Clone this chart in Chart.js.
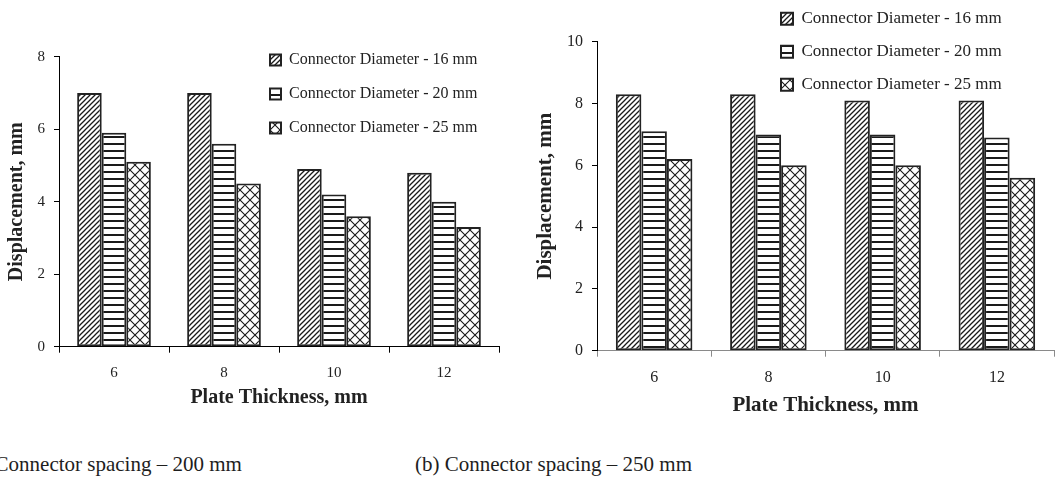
<!DOCTYPE html>
<html><head><meta charset="utf-8">
<script src="https://cdn.jsdelivr.net/npm/chart.js@4/dist/chart.umd.min.js"></script>
<style>
html,body{margin:0;padding:0;background:#fff;width:1057px;height:478px;overflow:hidden;position:relative;font-family:"Liberation Serif","Times New Roman",serif;}
canvas{position:absolute;top:0;}
#c1{left:0}
#c2{left:530px}
.cap{position:absolute;font-size:21px;color:#1e1e1e;white-space:nowrap;line-height:21px;top:454px;}
</style></head><body>
<canvas id="c1" width="525" height="416"></canvas>
<canvas id="c2" width="527" height="426"></canvas>
<div class="cap" style="left:-34px">(a) Connector spacing – 200 mm</div>
<div class="cap" style="left:415px">(b) Connector spacing – 250 mm</div>
<script>
// ---- data ----
const categories = ['6', '8', '10', '12'];
const seriesNames = ['Connector Diameter - 16 mm', 'Connector Diameter - 20 mm', 'Connector Diameter - 25 mm'];
const spacing200_d16 = [7.0, 7.0, 4.9, 4.8];
const spacing200_d20 = [5.9, 5.6, 4.2, 4.0];
const spacing200_d25 = [5.1, 4.5, 3.6, 3.3];
const spacing250_d16 = [8.3, 8.3, 8.1, 8.1];
const spacing250_d20 = [7.1, 7.0, 7.0, 6.9];
const spacing250_d25 = [6.2, 6.0, 6.0, 5.6];
const yMaxA = 8, yMaxB = 10, yStep = 2;
const xTitle = 'Plate Thickness, mm';
const yTitle = 'Displacement, mm';

// ---- patterns ----
const INK = '#222';
function tile(w, h, draw) {
  const c = document.createElement('canvas');
  c.width = w; c.height = h;
  const g = c.getContext('2d');
  g.fillStyle = '#fff'; g.fillRect(0, 0, w, h);
  g.strokeStyle = '#1a1a1a'; g.fillStyle = '#1a1a1a';
  draw(g, w, h);
  return g.createPattern(c, 'repeat');
}
const patDiag = tile(5, 5, (g, w, h) => {
  g.lineWidth = 1.3;
  g.beginPath();
  g.moveTo(-1, h + 1); g.lineTo(w + 1, -1);
  g.moveTo(-2, 2); g.lineTo(2, -2);
  g.moveTo(w - 2, h + 2); g.lineTo(w + 2, h - 2);
  g.stroke();
});
const patHoriz = tile(8, 7, (g, w, h) => {
  g.fillRect(0, 3, w, 2);
});
const patCross = tile(10, 10, (g, w, h) => {
  g.lineWidth = 1.1;
  g.beginPath();
  g.moveTo(0, 0); g.lineTo(w, h);
  g.moveTo(0, h); g.lineTo(w, 0);
  g.stroke();
});
const patterns = [patDiag, patHoriz, patCross];

const FONT = '"Liberation Serif", "Times New Roman", serif';

const legendPlacer = {
  id: 'legendPlacer',
  afterLayout(chart, args, opts) {
    const lg = chart.legend;
    if (!lg) return;
    const pad = lg.options.labels.padding;
    lg.left = opts.x - pad;
    lg.top = opts.y - pad;
  }
};

function makeChart(id, values, cfg) {
  const datasets = values.map((v, i) => ({
    label: seriesNames[i],
    data: v,
    backgroundColor: patterns[i],
    borderColor: INK,
    borderWidth: 2,
    borderSkipped: false,
    categoryPercentage: 0.67,
    barPercentage: 1.0
  }));
  return new Chart(document.getElementById(id), {
    type: 'bar',
    data: { labels: categories, datasets },
    plugins: [legendPlacer],
    options: {
      responsive: false,
      animation: false,
      devicePixelRatio: 1,
      layout: { padding: { top: cfg.top, right: cfg.right, left: 0, bottom: 0 } },
      plugins: {
        tooltip: { enabled: false },
        legendPlacer: { x: cfg.legX, y: cfg.legY },
        legend: {
          position: 'chartArea',
          align: 'start',
          labels: {
            boxWidth: cfg.box, boxHeight: cfg.box,
            padding: cfg.legPad,
            color: INK,
            font: { family: FONT, size: cfg.legFont }
          }
        }
      },
      scales: {
        x: {
          grid: { offset: true, drawOnChartArea: false, drawTicks: true, tickLength: 6, color: cfg.xAxisColor },
          border: { color: cfg.xAxisColor, width: 1 },
          ticks: { color: INK, padding: cfg.xTickPad, font: { family: FONT, size: cfg.tickFont } },
          title: { display: true, text: xTitle, color: INK, font: { family: FONT, size: cfg.titleFont, weight: 'bold' }, padding: { top: 0, bottom: cfg.xTitlePad } },
          afterFit: s => { s.height = cfg.xH; }
        },
        y: {
          min: 0, max: cfg.yMax,
          ticks: { stepSize: yStep, color: INK, padding: cfg.yTickPad, font: { family: FONT, size: cfg.tickFont } },
          grid: { drawOnChartArea: false, drawTicks: true, tickLength: 5, color: '#000' },
          border: { color: '#000', width: 1 },
          title: { display: true, text: yTitle, color: INK, font: { family: FONT, size: cfg.titleFont, weight: 'bold' }, padding: { top: cfg.yTitlePad, bottom: 0 } },
          afterFit: s => { s.width = cfg.yW; }
        }
      }
    }
  });
}

makeChart('c1', [spacing200_d16, spacing200_d20, spacing200_d25], {
  top: 56.7, right: 26, yW: 59, xH: 69.3, yMax: yMaxA,
  tickFont: 15, titleFont: 20, legFont: 16, box: 11, legPad: 18,
  legX: 270, legY: 52, xTickPad: 11, yTickPad: 9, xTitlePad: 6, yTitlePad: 5,
  xAxisColor: '#000'
});
makeChart('c2', [spacing250_d16, spacing250_d20, spacing250_d25], {
  top: 41.7, right: 3, yW: 67, xH: 75.3, yMax: yMaxB,
  tickFont: 16, titleFont: 21, legFont: 17, box: 12, legPad: 16,
  legX: 251, legY: 10.2, xTickPad: 11, yTickPad: 9, xTitlePad: 8, yTitlePad: 3.4,
  xAxisColor: '#8a8a8a'
});
</script>
</body></html>
